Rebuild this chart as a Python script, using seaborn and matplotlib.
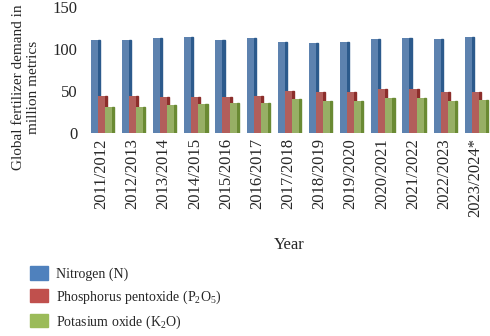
import pandas as pd
import matplotlib
matplotlib.use('Agg')
import matplotlib.pyplot as plt
import seaborn as sns

# Values (million metric tonnes)
years = ['2011/2012', '2012/2013', '2013/2014', '2014/2015', '2015/2016', '2016/2017', '2017/2018',
         '2018/2019', '2019/2020', '2020/2021', '2021/2022', '2022/2023', '2023/2024*']
nitrogen = [110, 110, 113, 114, 110, 113, 108, 107, 108, 112, 113, 112, 114]
phosphorus = [44, 44, 42, 43, 43, 44, 50, 48, 48, 52, 52, 48, 49]
potash = [31, 31, 33, 34, 35, 35, 40, 38, 38, 41, 41, 38, 39]
series_names = ['Nitrogen (N)',
                r'Phosphorus pentoxide (P$\mathregular{_2}$O$\mathregular{_5}$)',
                r'Potasium oxide (K$\mathregular{_2}$O)']
colors = ['#4F81BD', '#C0504D', '#9BBB59']

df = pd.DataFrame({'Year': years * 3,
                   'Demand': nitrogen + phosphorus + potash,
                   'Fertilizer': [series_names[0]] * len(years) + [series_names[1]] * len(years)
                   + [series_names[2]] * len(years)})

sns.set_style('white')
plt.rcParams['font.family'] = ['Liberation Serif', 'DejaVu Serif']
plt.rcParams['mathtext.fontset'] = 'stix'

fig = plt.figure(figsize=(4.9, 3.36), dpi=100)
ax = fig.add_axes([0.175, 0.605, 0.83, 0.375])
sns.barplot(data=df, x='Year', y='Demand', hue='Fertilizer', palette=colors, width=0.68,
            edgecolor='none', ax=ax, legend=False)
# darker side shading to hint the 3D look of the original
for bars, c in zip(ax.containers, ['#2C5A8C', '#8C2E2B', '#6A8A33']):
    for b in bars:
        ax.add_patch(plt.Rectangle((b.get_x() + b.get_width(), 0), b.get_width() * 0.3, b.get_height(),
                                   color=c, zorder=b.get_zorder() - 0.1))

ax.set_ylim(0, 150)
ax.set_yticks([0, 50, 100, 150])
ax.set_xlim(-0.5, len(years) - 0.45)
ax.tick_params(axis='y', labelsize=12, length=0, pad=6)
ax.tick_params(axis='x', labelsize=12, length=0, rotation=90, pad=4)
ax.set_xlabel('Year', fontsize=12, labelpad=14)
ax.set_ylabel('Global fertilizer demand in\nmillion metrics', fontsize=11)
ax.yaxis.set_label_coords(-0.113, 0.36)
sns.despine(ax=ax, left=True, bottom=True)

handles = [plt.Rectangle((0, 0), 1, 1, color=c) for c in colors]
fig.legend(handles, series_names, loc='upper left', bbox_to_anchor=(0.035, 0.245), frameon=False,
           fontsize=10, handlelength=1.3, handleheight=1.1, labelspacing=0.55, handletextpad=0.6)

fig.savefig('out.png', dpi=100)
